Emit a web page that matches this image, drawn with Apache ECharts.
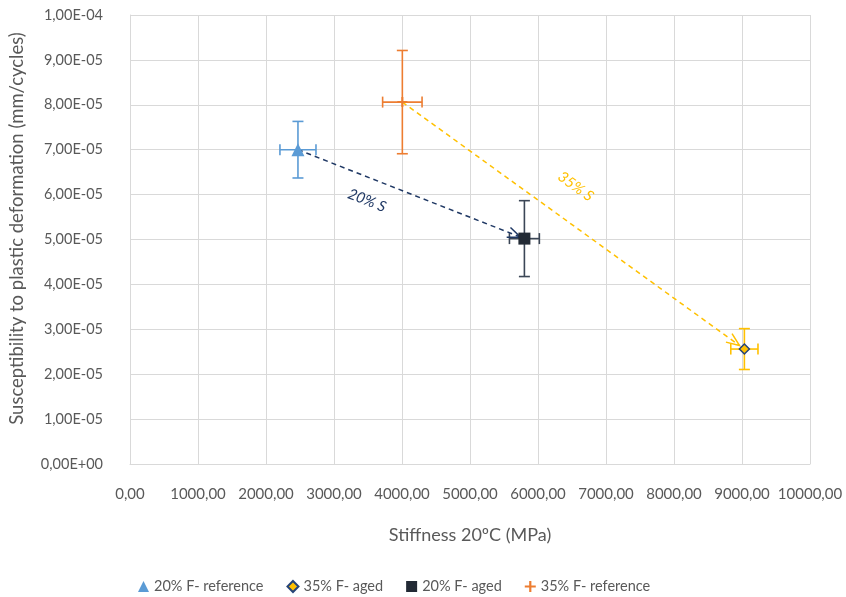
<!DOCTYPE html>
<html>
<head>
<meta charset="utf-8">
<script src="https://cdn.jsdelivr.net/npm/echarts@6/dist/echarts.min.js"></script>
<style>
  html, body { margin: 0; padding: 0; background: #fff; }
  #chart { width: 846px; height: 597px; }
</style>
</head>
<body>
<div id="chart"></div>
<script>
// Mixture series: name, stiffness (MPa), susceptibility (mm/cycles), and their error ranges
const seriesNames = ['20% F- reference', '35% F- aged', '20% F- aged', '35% F- reference'];
const stiffness = [2470, 9035, 5800, 4005];
const susceptibility = [7.0e-5, 2.56e-5, 5.02e-5, 8.06e-5];
const stiffnessErr = [265, 200, 220, 290];
const susceptibilityErr = [0.63e-5, 0.455e-5, 0.845e-5, 1.15e-5];

// Ageing transitions: from reference to aged, labelled by sulfur content
const arrowFrom = [0, 3];
const arrowTo = [2, 1];
const arrowLabels = ['20% S', '35% S'];

// Axis tick settings
const xTicks = { min: 0, max: 10000, interval: 1000 };
const yTicks = { min: 0, max: 1e-4, interval: 1e-5 };

const FONT = 'Lato, "Open Sans", sans-serif';
const TEXT = '#595959';

const styleOf = [
  { color: '#5b9bd5', err: '#5b9bd5', symbol: 'triangle', size: 13, border: null },
  { color: '#ffc000', err: '#ffc000', symbol: 'diamond', size: 10, border: '#264478' },
  { color: '#222a35', err: '#3b4656', symbol: 'rect', size: 12, border: null },
  { color: '#ed7d31', err: '#ed7d31',
    symbol: 'path://M4,0 L6,0 L6,4 L10,4 L10,6 L6,6 L6,10 L4,10 L4,6 L0,6 L0,4 L4,4 Z',
    size: 10, border: null }
];
const arrowStyle = [
  { color: '#1f3864', endGap: 4, t: 0.34, off: 22 },
  { color: '#ffc000', endGap: 6, t: 0.45, off: -33 }
];

function sciLabel(v) {
  if (v === 0) return '0,00E+00';
  const e = Math.floor(Math.log10(v) + 1e-9);
  const m = v / Math.pow(10, e);
  const es = (e < 0 ? '-' : '+') + String(Math.abs(e)).padStart(2, '0');
  return m.toFixed(2).replace('.', ',') + 'E' + es;
}

function errorRender(color) {
  return function (params, api) {
    const x = api.value(0), y = api.value(1), dx = api.value(2), dy = api.value(3);
    const l = api.coord([x - dx, y]), r = api.coord([x + dx, y]);
    const t = api.coord([x, y + dy]), b = api.coord([x, y - dy]);
    const cap = 5.5;
    const st = { stroke: color, lineWidth: 1.6 };
    const seg = (x1, y1, x2, y2) => ({ type: 'line', shape: { x1, y1, x2, y2 }, style: st });
    return {
      type: 'group',
      children: [
        seg(l[0], l[1], r[0], r[1]),
        seg(l[0], l[1] - cap, l[0], l[1] + cap),
        seg(r[0], r[1] - cap, r[0], r[1] + cap),
        seg(t[0], t[1], b[0], b[1]),
        seg(t[0] - cap, t[1], t[0] + cap, t[1]),
        seg(b[0] - cap, b[1], b[0] + cap, b[1])
      ]
    };
  };
}

function arrowRender(params, api) {
  const i = params.dataIndex;
  const s = arrowStyle[i];
  const p1 = api.coord([api.value(0), api.value(1)]);
  const p2 = api.coord([api.value(2), api.value(3)]);
  const dx = p2[0] - p1[0], dy = p2[1] - p1[1];
  const len = Math.sqrt(dx * dx + dy * dy);
  const ux = dx / len, uy = dy / len;
  const ex = p2[0] - ux * s.endGap, ey = p2[1] - uy * s.endGap;
  const ang = Math.atan2(dy, dx);
  const head = 14, spread = 0.38;
  const h1 = [ex - head * Math.cos(ang - spread), ey - head * Math.sin(ang - spread)];
  const h2 = [ex - head * Math.cos(ang + spread), ey - head * Math.sin(ang + spread)];
  const lx = p1[0] + dx * s.t - uy * s.off;
  const ly = p1[1] + dy * s.t + ux * s.off;
  return {
    type: 'group',
    children: [
      { type: 'line', shape: { x1: p1[0], y1: p1[1], x2: ex, y2: ey },
        style: { stroke: s.color, lineWidth: 1.5, lineDash: [5, 4] } },
      { type: 'polyline', shape: { points: [h1, [ex, ey], h2] },
        style: { stroke: s.color, lineWidth: 1.5, fill: null } },
      { type: 'text', x: lx, y: ly, rotation: -ang,
        style: { text: arrowLabels[i], fill: s.color, font: 'italic 15px ' + FONT,
                 align: 'center', verticalAlign: 'middle' } }
    ]
  };
}

const series = [];
// error bars first, so markers sit on top
seriesNames.forEach((name, i) => {
  series.push({
    type: 'custom', name: name + ' err', silent: true, z: 2,
    renderItem: errorRender(styleOf[i].err),
    data: [[stiffness[i], susceptibility[i], stiffnessErr[i], susceptibilityErr[i]]]
  });
});
series.push({
  type: 'custom', name: 'ageing', silent: true, z: 3,
  renderItem: arrowRender,
  data: arrowFrom.map((f, k) => [stiffness[f], susceptibility[f], stiffness[arrowTo[k]], susceptibility[arrowTo[k]]])
});
seriesNames.forEach((name, i) => {
  const s = styleOf[i];
  series.push({
    type: 'scatter', name: name, z: 5,
    symbol: s.symbol, symbolSize: s.size,
    itemStyle: { color: s.color, borderColor: s.border || s.color, borderWidth: s.border ? 1.5 : 0, opacity: 1 },
    data: [[stiffness[i], susceptibility[i]]]
  });
});

const chart = echarts.init(document.getElementById('chart'), null, { renderer: 'canvas' });
chart.setOption({
  animation: false,
  backgroundColor: '#fff',
  textStyle: { fontFamily: FONT },
  grid: { left: 130, right: 36, top: 15, bottom: 133, containLabel: false },
  xAxis: {
    type: 'value', min: xTicks.min, max: xTicks.max, interval: xTicks.interval,
    name: 'Stiffness 20ºC (MPa)', nameLocation: 'middle', nameGap: 62,
    nameTextStyle: { color: TEXT, fontSize: 18, fontFamily: FONT },
    axisLine: { show: true, lineStyle: { color: '#d9d9d9', width: 1 } },
    axisTick: { show: false },
    axisLabel: { color: TEXT, fontSize: 15, margin: 23, fontFamily: FONT,
                 formatter: v => v.toFixed(2).replace('.', ',') },
    splitLine: { show: true, lineStyle: { color: '#d9d9d9', width: 1 } }
  },
  yAxis: {
    type: 'value', min: yTicks.min, max: yTicks.max, interval: yTicks.interval,
    name: 'Susceptibility to plastic deformation (mm/cycles)', nameLocation: 'middle', nameGap: 103,
    nameRotate: 90,
    nameTextStyle: { color: TEXT, fontSize: 18.5, fontFamily: FONT, padding: [0, 0, 0, 22] },
    axisLine: { show: true, lineStyle: { color: '#d9d9d9', width: 1 } },
    axisTick: { show: false },
    axisLabel: { color: TEXT, fontSize: 14.5, margin: 27, fontFamily: FONT, formatter: sciLabel },
    splitLine: { show: true, lineStyle: { color: '#d9d9d9', width: 1 } }
  },
  legend: {
    data: seriesNames,
    top: 574, left: 133,
    itemWidth: 11, itemHeight: 11, itemGap: 23,
    textStyle: { color: TEXT, fontSize: 14.5, fontFamily: FONT }
  },
  series: series
});
</script>
</body>
</html>
